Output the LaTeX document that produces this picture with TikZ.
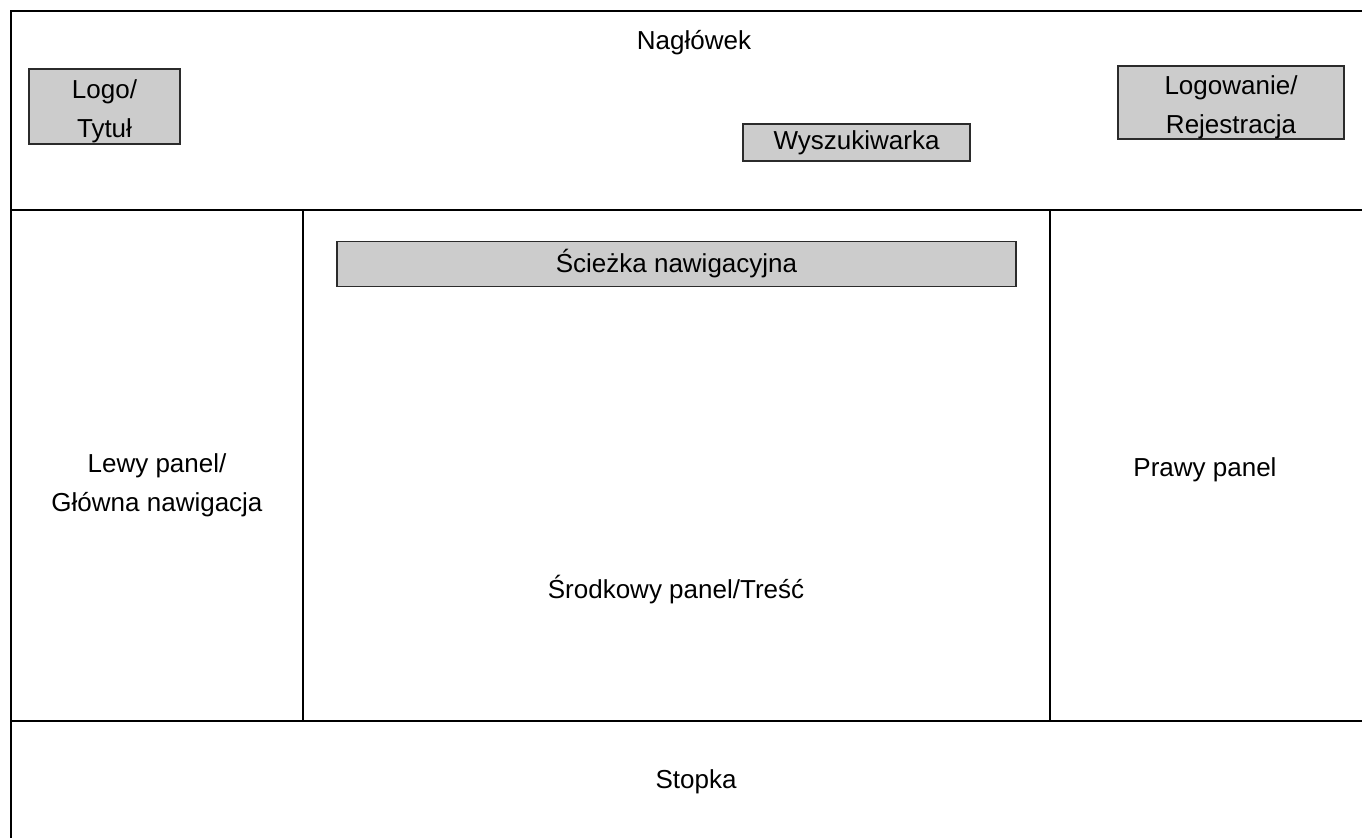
\documentclass[tikz,border=0pt]{standalone}
\usepackage{fontspec}
\setmainfont{Liberation Sans}
\usetikzlibrary{positioning}
\definecolor{boxgray}{HTML}{CCCCCC}
\definecolor{boxline}{HTML}{2B2B2B}
\tikzset{%
	frame line/.style={
		line width=1.1pt,
		draw=black
	},
	gray box/.style={
		draw=boxline,
		fill=boxgray,
		line width=0.8pt,
		inner sep=0pt,
		align=center
	},
	label text/.style={
		align=center,
		inner sep=0pt
	},
}

\begin{document}
\begin{tikzpicture}[x=0.02cm,y=-0.02cm,
		every node/.append style={font=\fontsize{14.8}{22.2}\selectfont}]
			\useasboundingbox (0,0) rectangle (1362,838);
			
			% Frame of the page
			\draw[frame line] (1362,11) -- (11,11) -- (11,838);
			\draw[frame line] (11,210) -- (1362,210);
			\draw[frame line] (11,721) -- (1362,721);
			\draw[frame line] (303,210) -- (303,721);
			\draw[frame line] (1050,210) -- (1050,721);
			
			% Header
			\node[label text] (naglowek) at (694,43) {Nagłówek};
			\node[gray box, minimum width=3.02cm, minimum height=1.5cm] (logo) at (104.5,106.5) {\rule{0pt}{15.8pt}Logo/\\Tytuł};
			\node[gray box, minimum width=4.52cm, minimum height=1.46cm] (logowanie) at (1231,102.5) {\rule{0pt}{16pt}Logowanie/\\Rejestracja};
			\node[gray box, minimum width=4.54cm, minimum height=0.74cm] (szukaj) at (856.5,142.5) {\raisebox{-1.5pt}{Wyszukiwarka}};
			
			% Panels
			\node[gray box, minimum width=13.58cm, minimum height=0.9cm] (sciezka) at (676.5,264) {\raisebox{-1.5pt}{Ścieżka nawigacyjna}};
			\node[label text] (lewy) at (157,485) {Lewy panel/\\Główna nawigacja};
			\node[label text] (srodek) at (676,590) {Środkowy panel/Treść};
			\node[label text] (prawy) at (1205,470) {Prawy panel};
			
			% Footer
			\node[label text] (stopka) at (696,782) {Stopka};
			
		\end{tikzpicture}
\end{document}
